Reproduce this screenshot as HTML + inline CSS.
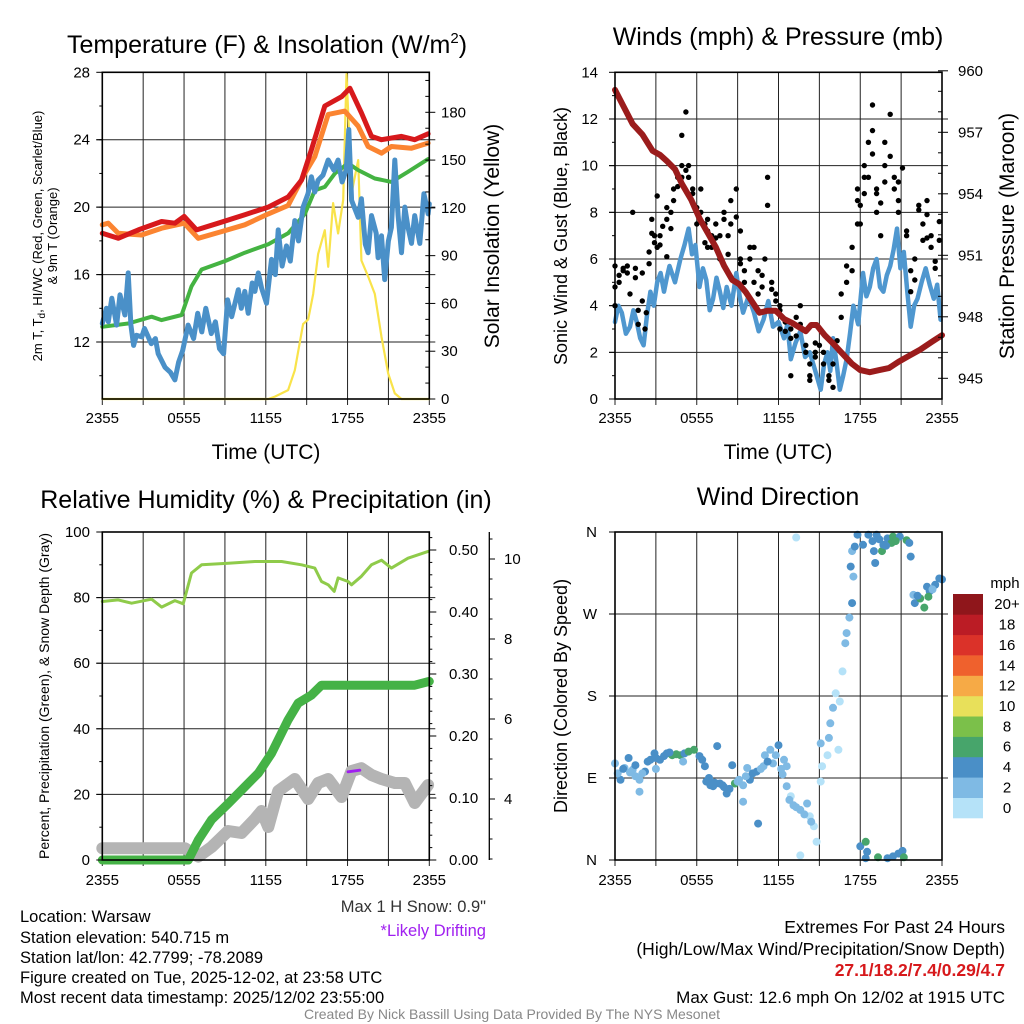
<!DOCTYPE html>
<html><head><meta charset="utf-8"><style>
html,body{margin:0;padding:0;background:#fff;}
svg{display:block;font-family:"Liberation Sans",sans-serif;}
</style></head><body>
<svg id="chart" xmlns="http://www.w3.org/2000/svg" width="1024" height="1024" viewBox="0 0 1024 1024">
<g id="grid"></g>
<g id="marks"></g>
<g id="frames"></g>
<g id="labels" font-size="15" fill="#000"></g>
<text x="267" y="53" font-size="25" text-anchor="middle">Temperature (F) &amp; Insolation (W/m<tspan dy="-10" font-size="15">2</tspan><tspan dy="10">)</tspan></text>
<text x="778" y="45" font-size="25" text-anchor="middle">Winds (mph) &amp; Pressure (mb)</text>
<text x="266" y="508" font-size="25" text-anchor="middle">Relative Humidity (%) &amp; Precipitation (in)</text>
<text x="778" y="505" font-size="25" text-anchor="middle">Wind Direction</text>
<g font-size="21" text-anchor="middle">
<text x="266" y="459">Time (UTC)</text>
<text x="778" y="459">Time (UTC)</text>
<text transform="translate(499,236) rotate(-90)">Solar Insolation (Yellow)</text>
<text transform="translate(1014,236) rotate(-90)">Station Pressure (Maroon)</text>
</g>
<g font-size="18" text-anchor="middle">
<text transform="translate(567,236) rotate(-90)">Sonic Wind &amp; Gust (Blue, Black)</text>
<text transform="translate(567,696) rotate(-90)">Direction (Colored By Speed)</text>
</g>
<g font-size="13" text-anchor="middle">
<text transform="translate(42,236) rotate(-90)">2m T, T<tspan dy="3" font-size="10">d</tspan><tspan dy="-3">, HI/WC (Red, Green, Scarlet/Blue)</tspan></text>
<text transform="translate(57,236) rotate(-90)">&amp; 9m T (Orange)</text>
<text transform="translate(49,696) rotate(-90)" font-size="14">Percent, Precipitation (Green), &amp; Snow Depth (Gray)</text>
</g>
<g font-size="16.5">
<text x="486" y="912" text-anchor="end" fill="#333">Max 1 H Snow: 0.9"</text>
<text x="486" y="936" text-anchor="end" fill="#a020f0">*Likely Drifting</text>
<text x="20" y="922">Location: Warsaw</text>
<text x="20" y="943">Station elevation: 540.715 m</text>
<text x="20" y="963">Station lat/lon: 42.7799; -78.2089</text>
<text x="20" y="983">Figure created on Tue, 2025-12-02, at 23:58 UTC</text>
<text x="20" y="1003">Most recent data timestamp: 2025/12/02 23:55:00</text>
<text x="1005" y="933" text-anchor="end" font-size="17.5">Extremes For Past 24 Hours</text>
<text x="1005" y="955" text-anchor="end" font-size="17.5">(High/Low/Max Wind/Precipitation/Snow Depth)</text>
<text x="1005" y="976" text-anchor="end" font-size="17.5" font-weight="bold" fill="#d7191c">27.1/18.2/7.4/0.29/4.7</text>
<text x="1005" y="1003" text-anchor="end" font-size="17">Max Gust: 12.6 mph On 12/02 at 1915 UTC</text>
<text x="512" y="1019" text-anchor="middle" font-size="14" fill="#888">Created By Nick Bassill Using Data Provided By The NYS Mesonet</text>
</g>
</svg>
<script>
// ---------- data ----------
const timeTicks = ["2355","0555","1155","1755","2355"];
const tempTicks = [12,16,20,24,28];
const solarTicks = [0,30,60,90,120,150,180];
const windTicks = [0,2,4,6,8,10,12,14];
const presTicks = [945,948,951,954,957,960];
const pctTicks = [0,20,40,60,80,100];
const precipTicks = ["0.00","0.10","0.20","0.30","0.40","0.50"];
const snowTicks = [4,6,8,10];
const dirTicks = ["N","E","S","W","N"];
const speedLabels = ["0","2","4","6","8","10","12","14","16","18","20+"];
const speedColors = ["#b5e2f8","#7fbae4","#4a8fc7","#47a56b","#7bc04a","#e8e05a","#f6aa46","#ef612d","#db3229","#bb1c25","#8f161b"];

const redHours = [0,1.17,2.64,4.35,5.33,6.01,6.92,8.51,10.46,12.18,13.64,14.62,15.35,16.33,17.56,18.17,19.02,19.76,20.49,21.96,22.93,23.91];
const redTemps = [18.45,18.15,18.65,19.15,19.05,19.45,18.65,19.05,19.55,20.0,20.6,21.6,23.4,26.0,26.55,27.05,25.6,24.2,24.0,24.2,24.0,24.35];
const orangeHours = [0,0.44,1.17,2.88,4.35,6.01,7.04,8.75,10.46,12.18,13.64,14.87,15.6,16.58,17.8,18.78,19.51,20.49,21.22,22.69,23.91];
const orangeTemps = [18.95,19.05,18.45,18.35,18.75,19.05,18.15,18.55,18.95,19.6,20.1,22.0,23.0,25.5,25.7,24.8,23.6,23.2,23.6,23.5,23.8];
const greenHours = [0,1.91,3.62,4.35,5.82,6.55,7.29,9.0,10.46,12.18,13.64,14.87,15.6,16.33,17.07,18.04,18.78,20.0,21.22,22.44,23.91];
const greenTemps = [12.9,13.1,13.5,13.3,13.6,15.3,16.3,16.8,17.3,17.8,18.45,19.6,21.0,21.2,22.0,22.6,22.2,21.7,21.5,22.1,22.85];
const blueHours = [0,0.3,0.44,0.7,1.05,1.3,1.66,1.9,2.1,2.3,2.5,2.9,3.1,3.6,3.9,4.1,4.6,5.0,5.33,5.6,5.9,6.3,6.7,7.0,7.3,7.6,8.0,8.3,8.6,8.9,9.2,9.5,9.98,10.2,10.46,10.71,11.0,11.2,11.45,11.69,12.05,12.42,12.7,12.91,13.2,13.52,13.8,14.13,14.4,14.74,15.1,15.35,15.6,15.84,16.2,16.58,17.0,17.31,17.6,17.9,18.09,18.3,18.78,19.02,19.3,19.51,19.76,20.1,20.24,20.49,20.73,21.0,21.22,21.47,21.71,21.96,22.2,22.44,22.69,22.93,23.3,23.6,23.91,24];
const blueTemps = [13.1,14.0,13.2,14.6,13.0,14.8,13.6,16.1,13.0,11.8,12.4,12.3,12.8,11.9,12.2,11.3,10.5,10.2,9.75,10.8,11.5,13.0,12.2,13.7,12.6,14.0,12.5,13.2,11.6,11.3,14.5,13.5,15.1,14.0,15.0,13.7,15.5,15.0,16.1,15.2,14.3,16.9,16.0,18.65,16.5,17.7,16.8,19.2,18.0,20.0,20.8,21.8,20.9,21.6,21.9,22.8,22.2,22.8,21.5,22.2,24.6,20.4,19.4,20.5,17.8,17.3,19.5,18.45,17.0,18.3,15.7,18.0,18.8,22.8,19.5,17.3,20.0,18.8,17.85,19.5,17.85,20.8,19.6,20.2];
const solarHours = [0,12.18,12.67,13.64,14.13,14.74,15.11,15.48,15.84,16.33,16.58,16.94,17.31,17.68,17.92,18.09,18.29,18.78,19.02,19.51,20.0,20.49,20.98,21.47,21.96,24];
const solarValues = [0,0,1.5,5.6,18,47,50,66,91,106,83,123,104,125,204,171,129,150,87,77,66,39,16,3.5,0,0];

const presHours = [0,0.6,1.3,2.0,2.75,3.3,3.8,4.4,4.9,5.6,6.2,6.8,7.4,8.0,8.6,9.1,9.6,10.1,10.6,11.2,11.8,12.4,13.0,13.5,14.0,14.4,14.8,15.4,16.0,16.7,17.4,18.0,18.7,19.4,20.1,20.8,21.6,22.4,23.3,24];
const presValues = [959.07,958.3,957.4,956.9,956.1,955.9,955.6,955.2,954.5,953.7,952.8,952.1,951.4,950.5,949.8,949.6,949.2,948.7,948.2,948.3,948.3,947.9,947.7,947.5,947.3,947.6,947.6,947.1,946.7,946.2,945.7,945.4,945.3,945.4,945.5,945.8,946.1,946.4,946.8,947.1];
const windHours = [0,0.25,0.5,0.8,1.1,1.35,1.6,1.85,2.1,2.35,2.6,2.85,3.1,3.35,3.6,3.8,4.0,4.4,4.8,5.1,5.4,5.65,5.9,6.2,6.45,6.7,6.95,7.2,7.45,7.7,7.95,8.2,8.55,8.9,9.15,9.4,9.8,10.2,10.55,10.9,11.25,11.6,12.0,12.4,12.65,12.9,13.25,13.6,13.95,14.3,14.7,15.1,15.35,15.6,15.8,16.0,16.25,16.5,16.75,17.0,17.25,17.5,17.85,18.2,18.45,18.7,18.95,19.2,19.45,19.7,19.95,20.2,20.45,20.7,20.95,21.2,21.45,21.7,21.95,22.2,22.5,22.8,23.1,23.4,23.65,23.9];
const windSpeeds = [3.3,4.0,3.7,2.8,3.1,3.8,3.3,2.6,2.3,3.6,4.6,4.0,5.0,5.4,4.6,5.2,5.7,5.0,6.0,6.6,7.3,6.2,6.6,4.8,5.6,5.1,3.8,4.3,5.2,4.6,3.9,4.8,4.0,5.4,4.4,3.7,4.4,3.7,2.9,3.4,4.2,3.1,3.3,2.6,3.2,1.7,2.4,2.9,1.8,2.0,1.2,0.4,1.5,2.0,1.2,2.6,1.6,0.4,1.0,1.7,2.8,4.0,3.2,5.4,4.4,4.8,5.6,6.0,4.8,4.6,5.3,5.7,6.4,7.3,5.6,6.3,4.6,3.1,4.0,4.3,5.0,5.6,4.9,4.3,4.9,3.4];
const gustHours = [0,0,0,0.3,0.3,0.6,0.6,0.9,0.9,1.1,1.3,1.5,1.5,1.7,1.7,2.0,2.0,2.2,2.3,2.5,2.5,2.7,2.7,2.9,2.9,3.1,3.1,3.3,3.3,3.5,3.8,3.8,3.8,4.1,4.1,4.3,4.3,4.6,4.6,4.9,4.9,4.9,5.2,5.2,5.4,5.4,5.7,5.7,6.0,6.0,6.3,6.3,6.6,6.6,6.8,6.8,6.8,7.1,7.1,7.4,7.4,7.7,7.7,8.0,8.0,8.3,8.3,8.5,8.5,8.9,8.9,9.2,9.2,9.2,9.5,9.5,9.9,9.9,10.2,10.2,10.5,10.5,10.8,10.8,11.0,11.2,11.2,11.5,11.5,11.8,11.8,12.1,12.1,12.1,12.5,12.5,12.9,12.9,12.9,13.3,13.3,13.6,13.6,14.0,14.0,14.3,14.3,14.3,14.7,14.7,14.7,15.0,15.3,15.3,15.7,15.7,16.0,16.0,16.3,16.6,16.6,17.0,17.0,17.4,17.4,17.8,17.8,17.8,18.0,18.0,18.3,18.3,18.3,18.6,18.6,18.9,18.9,18.9,19.2,19.2,19.2,19.5,19.5,19.8,19.8,19.8,20.2,20.2,20.5,20.5,20.8,20.8,20.8,21.1,21.4,21.4,21.7,21.7,22.0,22.0,22.3,22.3,22.6,22.6,22.9,22.9,22.9,23.2,23.2,23.5,23.5,23.8,23.8];
const gustSpeeds = [5.7,4.8,4.0,5.0,5.3,5.5,5.6,5.7,5.4,4.5,8.0,5.6,5.2,3.8,3.2,4.2,5.4,3.0,3.7,5.8,6.3,7.1,7.7,6.7,7.0,8.7,6.5,6.6,7.0,7.4,7.7,6.1,8.2,8.0,7.3,8.5,9.0,9.1,9.5,10.0,9.5,11.3,12.3,9.8,10.0,9.5,9.0,8.8,8.2,7.5,9.0,8.0,7.5,6.7,7.2,6.5,7.7,6.5,7.0,7.5,6.9,6.0,7.0,7.7,8.0,6.2,7.0,8.5,7.5,9.0,7.8,5.8,6.0,7.2,5.0,5.5,6.0,6.5,6.5,5.0,5.5,4.5,4.8,5.3,6.0,9.5,8.3,4.7,5.0,4.5,4.2,3.8,4.0,3.0,3.3,2.9,2.6,3.0,1.0,2.7,3.5,4.0,3.2,2.3,2.0,0.8,1.0,1.5,1.8,2.4,2.0,2.3,2.0,1.5,1.0,0.8,0.5,1.5,2.5,3.5,4.5,5.0,5.7,5.5,6.5,7.5,9.0,8.5,8.3,7.5,9.5,10.0,8.8,11.0,9.5,12.6,11.5,10.5,8.8,8.0,9.0,7.0,8.4,10.0,11.0,9.3,12.2,10.4,9.5,9.0,8.0,8.5,9.3,9.9,7.0,7.2,4.6,5.5,6.0,5.1,8.1,8.3,6.8,7.5,7.9,8.5,6.9,7.0,6.5,5.9,5.6,7.6,6.8];

const rhHours = [0,1.17,2.15,3.62,4.35,5.33,5.94,6.55,7.29,9.24,11.2,13.16,14.62,15.6,16.09,16.58,17.02,17.31,18.04,18.29,19.02,19.76,20.49,21.22,22.44,23.91];
const rhValues = [78.8,79.3,78.3,79.5,77.1,79.1,78.1,87.5,90.0,90.5,91.0,91.0,90.0,89.0,84.9,83.9,81.9,86.0,84.9,83.9,86.5,90.0,91.4,89.0,92.0,94.1];
const precipHours = [0,6.31,7.04,8.02,9.24,10.46,11.45,12.42,13.64,14.38,15.35,16.09,17.07,22.93,24];
const precipValues = [0,0,0.032,0.065,0.091,0.118,0.140,0.172,0.226,0.253,0.266,0.282,0.282,0.282,0.288];
const snowHours = [0,6.06,7.04,8.02,9.24,10.22,11.2,11.69,12.18,12.91,14.13,15.11,15.84,16.58,17.56,18.29,19.02,19.76,20.49,21.47,22.2,22.93,23.91];
const snowDepths = [2.77,2.77,2.56,2.8,3.2,3.15,3.5,3.7,3.3,4.2,4.5,4.0,4.4,4.5,4.05,4.7,4.77,4.6,4.5,4.4,4.4,3.9,4.35];
const driftHours = [18.04,18.9];
const driftDepths = [4.68,4.72];

const dirHours = [0,0.4,0.7,1.0,1.3,1.8,1.8,2.2,2.6,2.9,3.3,3.8,4.2,4.5,4.8,5.1,5.4,5.8,6.2,6.6,7.5,6.7,7.0,7.2,7.4,7.7,8.0,8.2,8.6,8.8,9.1,9.4,9.7,9.9,10.4,10.9,11.4,12.0,11.6,12.4,12.6,12.6,12.9,13.1,13.6,14.1,14.3,14.6,14.8,13.6,10.5,9.4,15.1,15.2,15.1,15.7,15.6,15.8,16.0,16.4,16.5,16.2,16.7,16.9,17.0,17.2,17.4,17.5,17.3,17.4,17.6,17.8,18.2,18.6,19.0,19.1,19.6,19.2,19.7,20.0,20.3,20.4,20.9,21.4,21.7,21.6,21.9,22.0,22.4,22.7,23.1,23.0,23.5,23.8,24,13.3,18.0,18.4,18.5,18.4,19.3,20.0,20.4,20.8,21.1,21.2,0.2,1.5,3.0,5.0,11.0,12.3,0.6,1.1,1.5,2.0,2.4,3.0,3.6,4.0,6.4,6.9,7.3,7.9,8.4,9.0,9.6,10.1,10.7,11.2,11.8,12.2,12.8,13.3,13.9,14.4,18.9,19.4,19.9,20.6,22.2,22.9,23.3];
const dirDegrees = [106,88,101,112,99,88,75,97,110,117,110,117,115,116,115,117,119,121,114,103,125,86,82,81,84,84,80,73,104,84,88,82,101,88,97,103,121,126,106,110,103,81,70,60,55,62,48,37,20,5,40,64,86,103,128,134,115,150,167,121,174,183,207,238,249,266,282,311,322,339,344,357,346,357,339,326,339,357,346,353,348,355,355,351,333,348,291,282,287,277,295,289,302,309,308,354,15,20,9,2,3,2,4,7,10,3,95,92,100,108,115,94,100,96,104,95,108,112,114,118,110,90,85,82,78,86,92,95,100,108,115,100,66,58,50,42,350,352,345,350,290,300,297];
const dirSpeeds = [3,4.5,3,4.5,3,3,3,4.5,4.5,4.5,4.5,4.5,6.5,6.5,6.5,4.5,6.5,6.5,4.5,4.5,4.5,4.5,4.5,4.5,4.5,4.5,4.5,4.5,4.5,6.5,3,3,3,4.5,4.5,3,3,4.5,3,3,3,3,1,3,3,3,1,1,1,1,4.5,3,1,1,3,3,1,3,3,1,1,1,1,3,3,3,4.5,3,4.5,3,4.5,4.5,4.5,4.5,4.5,4.5,6.5,4.5,4.5,4.5,6.5,6.5,4.5,6.5,4.5,4.5,3,4.5,6.5,6.5,4.5,6.5,4.5,4.5,4.5,1,4.5,6.5,4.5,4.5,6.5,4.5,4.5,4.5,4.5,6.5,3,3,3,3,3,3,4.5,3,4.5,3,4.5,4.5,4.5,4.5,4.5,4.5,4.5,4.5,4.5,3,3,4.5,3,4.5,3,3,3,3,3,3,4.5,4.5,4.5,6.5,4.5,4.5,3];

// ---------- helpers ----------
const NS = "http://www.w3.org/2000/svg";
const grid = document.getElementById('grid'), marks = document.getElementById('marks'), frames = document.getElementById('frames'), labels = document.getElementById('labels');
function mk(parent, tag, attrs){ const e=document.createElementNS(NS,tag); for(const k in attrs) e.setAttribute(k,attrs[k]); parent.appendChild(e); return e; }
function txt(x,y,s,anchor,size){ const t=mk(labels,'text',{x:x,y:y,'text-anchor':anchor||'middle'}); if(size) t.setAttribute('font-size',size); t.textContent=s;
 
 
 return t; }
function poly(xs,ys,fx,fy,color,w,name){ let d=''; for(let i=0;i<xs.length;i++){ d+=(i?'L':'M')+fx(xs[i]).toFixed(1)+','+fy(ys[i]).toFixed(1); }
 const p=mk(marks,'path',{d:d,fill:'none',stroke:color,'stroke-width':w,'stroke-linejoin':'round','stroke-linecap':'round'});
 
 
 return p; }

// panels
const P1={l:102.3,r:429.3,t:72.3,b:399}, P2={l:615,r:942,t:72.3,b:399}, P3={l:102.3,r:429.3,t:532,b:860}, P4={l:615,r:942,t:532,b:860};
function hx(P){ return h=>P.l+h*(P.r-P.l)/24; }
function drawTimeGrid(P,labY){
 for(let i=0;i<=8;i++){ const x=P.l+i*(P.r-P.l)/8;
  const g=mk(grid,'line',{x1:x,x2:x,y1:P.t,y2:P.b+6,stroke:'#222','stroke-width':1});
  
  
 }
 timeTicks.forEach((s,i)=>{ txt(P.l+i*(P.r-P.l)/4,labY,s,'middle'); });
}
function frame(P,name){ const r=mk(frames,'rect',{x:P.l,y:P.t,width:P.r-P.l,height:P.b-P.t,fill:'none',stroke:'#000','stroke-width':1.6});
 
  }
function hgrid(P,y){ const g=mk(grid,'line',{x1:P.l-6,x2:P.r+6,y1:y,y2:y,stroke:'#222','stroke-width':1});
 
  }
function tick(x1,x2,y){ const t=mk(frames,'line',{x1:x1,x2:x2,y1:y,y2:y,stroke:'#000','stroke-width':1});
 
  }

// ---------- Panel 1 ----------
const x1=hx(P1);
const yT=T=>P1.t+(28-T)*(342-72.3)/16;
const yS=S=>P1.b-S*(399-112.3)/180;
drawTimeGrid(P1,423);
tempTicks.forEach(v=>{ const y=yT(v); if(v<28) hgrid(P1,y); txt(90,y+5,String(v),'end'); tick(P1.l-6,P1.l,y); });
for(let v=10;v<28;v+=2){ tick(P1.l-3,P1.l,yT(v)); }
solarTicks.forEach(v=>{ const y=yS(v); txt(441,y+5,String(v),'start'); tick(P1.r,P1.r+6,y); });
for(let v=10;v<=200;v+=10){ tick(P1.r-4,P1.r,yS(v)); }
poly(solarHours,solarValues,x1,yS,'#f9e34a',2.2,'solar-line');
poly(greenHours,greenTemps,x1,yT,'#44b342',4,'dewpoint-line');
poly(orangeHours,orangeTemps,x1,yT,'#fb8431',5,'temp-9m-line');
poly(redHours,redTemps,x1,yT,'#d7191c',5,'temp-2m-line');
poly(blueHours,blueTemps,x1,yT,'#4a90c8',5,'windchill-line');
frame(P1,'temperature-plot-frame');

// ---------- Panel 2 ----------
const x2=hx(P2);
const yW=v=>P2.b-v*(P2.b-P2.t)/14;
const yP=p=>378.3-(p-945)*20.5;
drawTimeGrid(P2,423);
windTicks.forEach(v=>{ const y=yW(v); if(v>0&&v<14) hgrid(P2,y); txt(598,y+5,String(v),'end'); tick(P2.l-6,P2.l,y); });
for(let v=1;v<14;v+=2){ tick(P2.l-3,P2.l,yW(v)); }
presTicks.forEach(v=>{ const y=yP(v); txt(958,y+5,String(v),'start'); tick(P2.r,P2.r+6,y); });
for(let v=945;v<=960;v+=1){ tick(P2.r-4,P2.r,yP(v)); }
poly(windHours,windSpeeds,x2,yW,'#4f97cf',4.5,'sonic-wind-line');
gustHours.forEach((h,i)=>{ const c=mk(marks,'circle',{cx:x2(h).toFixed(1),cy:yW(gustSpeeds[i]).toFixed(1),r:2.7,fill:'#000'});
 
  });
poly(presHours,presValues,x2,yP,'#9b1c1c',6,'pressure-line');
frame(P2,'winds-plot-frame');

// ---------- Panel 3 ----------
const x3=hx(P3);
const yR=v=>P3.b-v*(P3.b-P3.t)/100;
const yPr=p=>P3.b-p*620;
const ySn=d=>799-(d-4)*40;
drawTimeGrid(P3,885);
pctTicks.forEach(v=>{ const y=yR(v); if(v>0&&v<100) hgrid(P3,y); txt(90,y+5,String(v),'end'); tick(P3.l-6,P3.l,y); });
for(let v=10;v<100;v+=20){ tick(P3.l-3,P3.l,yR(v)); }
precipTicks.forEach((s,i)=>{ const y=yPr(i*0.1); txt(449,y+5,s,'start'); tick(P3.r,P3.r+7,y); });
for(let v=0.02;v<0.53;v+=0.02){ tick(P3.r,P3.r+3,yPr(v)); }
const sa=mk(frames,'line',{x1:489.3,x2:489.3,y1:532,y2:860,stroke:'#000','stroke-width':1.3});


snowTicks.forEach(v=>{ const y=ySn(v); txt(504,y+5,String(v),'start'); tick(489.3,495,y); });
for(let v=2.5;v<=10.6;v+=0.5){ tick(489.3,492.5,ySn(v)); }
poly(snowHours,snowDepths,x3,ySn,'#b4b4b4',12,'snow-depth-line');
poly(driftHours,driftDepths,x3,ySn,'#a020f0',3,'drifting-segment');
poly(rhHours,rhValues,x3,yR,'#8fcb4a',3,'humidity-line');
poly(precipHours,precipValues,x3,yPr,'#45b246',9,'precipitation-line');
frame(P3,'humidity-plot-frame');

// ---------- Panel 4 ----------
const x4=hx(P4);
const yD=d=>P4.b-d*(P4.b-P4.t)/360;
drawTimeGrid(P4,885);
dirTicks.forEach((s,i)=>{ const y=yD(i*90); if(i>0&&i<4) hgrid(P4,y); txt(597,y+5,s,'end'); tick(P4.l-6,P4.l,y); });
dirHours.forEach((h,i)=>{ const bin=Math.min(10,Math.floor(dirSpeeds[i]/2));
 const c=mk(marks,'circle',{cx:x4(h).toFixed(1),cy:yD(dirDegrees[i]).toFixed(1),r:4,fill:speedColors[bin]});
 
  });
frame(P4,'direction-plot-frame');
// colorbar
const cbTop=594, cbH=(818-594)/11;
txt(1005,588,'mph','middle');
speedLabels.forEach((s,i)=>{ const j=10-i; const y=cbTop+j*cbH;
 const r=mk(marks,'rect',{x:953,y:y.toFixed(1),width:30,height:(cbH+0.3).toFixed(1),fill:speedColors[i]});
 
 
 txt(1007,y+cbH/2+5,s,'middle');
});
</script>
</body></html>
